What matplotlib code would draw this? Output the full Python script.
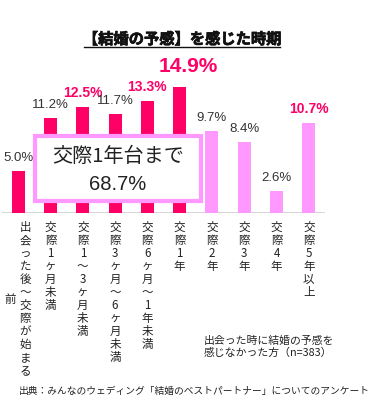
import matplotlib.pyplot as plt
import matplotlib.transforms as mtransforms
import matplotlib.patheffects as pe
from matplotlib.patches import FancyBboxPatch

plt.rcParams['font.family'] = ['Noto Sans CJK JP', 'DejaVu Sans']

# data
categories = ['出会った後〜交際が始まる前', '交際1ヶ月未満', '交際1〜3ヶ月未満',
              '交際3ヶ月〜6ヶ月未満', '交際6ヶ月〜1年未満', '交際1年',
              '交際2年', '交際3年', '交際4年', '交際5年以上']
values = [5.0, 11.2, 12.5, 11.7, 13.3, 14.9, 9.7, 8.4, 2.6, 10.7]
within_year = [True, True, True, True, True, True, False, False, False, False]
highlight = [False, False, True, False, True, True, False, False, False, True]
# stacked tick labels (vertical writing)
tick_cols = [['出会った後〜交際が始まる', '前'], ['交際1ヶ月未満'], ['交際1〜3ヶ月未満'],
             ['交際3ヶ月〜6ヶ月未満'], ['交際6ヶ月〜1年未満'], ['交際1年'],
             ['交際2年'], ['交際3年'], ['交際4年'], ['交際5年以上']]
box_title = '交際1年台まで'
box_value = '68.7%'
title = '【結婚の予感】を感じた時期'
note = '出会った時に結婚の予感を\n感じなかった方（n=383）'
source = '出典：みんなのウェディング「結婚のベストパートナー」についてのアンケート'

W, H = 376, 400
fig = plt.figure(figsize=(W / 100, H / 100), dpi=100)
fig.patch.set_facecolor('white')

# axes in pixel coordinates: left 2, baseline at 213 from top
ax = fig.add_axes([2 / W, (H - 213) / H, 323 / W, 169 / H])
ax.set_xlim(-0.5, 9.5)
ax.set_ylim(0, 20)
ax.axis('off')
ax.axhline(0, color='#d0d0d0', lw=1.2, zorder=1)

dark = '#ff0066'
light = '#ff99ff'
x = list(range(len(values)))
colors = [dark if w else light for w in within_year]
ax.bar(x, values, width=0.4, color=colors, zorder=2)

for i, v in enumerate(values):
    txt = f'{v:.1f}%'
    if highlight[i]:
        big = v == max(values)
        ax.annotate(txt, (i, v), xytext=(6 if big else 0, 8 if big else 5),
                    textcoords='offset points', ha='center', va='bottom',
                    fontsize=15 if big else 10, fontweight='bold', color=dark,
                    family=['Liberation Sans'])
    else:
        ax.annotate(txt, (i, v), xytext=(0, 5), textcoords='offset points',
                    ha='center', va='bottom', fontsize=9.5, color='#333333',
                    family=['Liberation Sans'])

# stacked vertical tick labels
trans = mtransforms.blended_transform_factory(ax.transData, fig.transFigure)
for i, cols in enumerate(tick_cols):
    for j, col in enumerate(cols):
        s = '\n'.join(col)
        if j == 0:
            fig.text(i + (0.22 if len(cols) > 1 else 0), 1 - 221 / H, s,
                     transform=trans, ha='center', va='top', fontsize=8.3,
                     linespacing=1.0, color='#222222')
        else:
            fig.text(i - 0.25, 1 - 299 / H, s, transform=trans, ha='center',
                     va='center', fontsize=8.3, color='#222222')

# box with cumulative share
box = FancyBboxPatch((35 / W, 1 - 201 / H), 166 / W, 65 / H,
                     boxstyle='square,pad=0', transform=fig.transFigure,
                     facecolor='white', edgecolor=light, lw=3, zorder=5)
fig.patches.append(box)
fig.text(118 / W, 1 - 156 / H, box_title, ha='center', va='center',
         fontsize=14.5, color='#222222', zorder=6)
fig.text(118 / W, 1 - 184 / H, box_value, ha='center', va='center',
         fontsize=14.5, color='#222222', zorder=6, family=['Liberation Sans'])

# title, underlined (thin stroke to thicken the CJK glyphs)
fig.text(182 / W, 1 - 39 / H, title, ha='center', va='center',
         fontsize=11, fontweight='bold', color='#111111',
         path_effects=[pe.withStroke(linewidth=0.5, foreground='#111111')])
fig.lines.append(plt.Line2D([84 / W, 280 / W], [1 - 47 / H, 1 - 47 / H],
                            transform=fig.transFigure, color='#111111', lw=1))

fig.text(204 / W, 1 - 347 / H, note, ha='left', va='center', fontsize=7.8,
         linespacing=1.25, color='#222222')
fig.text(19 / W, 1 - 391 / H, source, ha='left', va='center', fontsize=7.0,
         color='#222222')

fig.savefig('out.png', dpi=100)
